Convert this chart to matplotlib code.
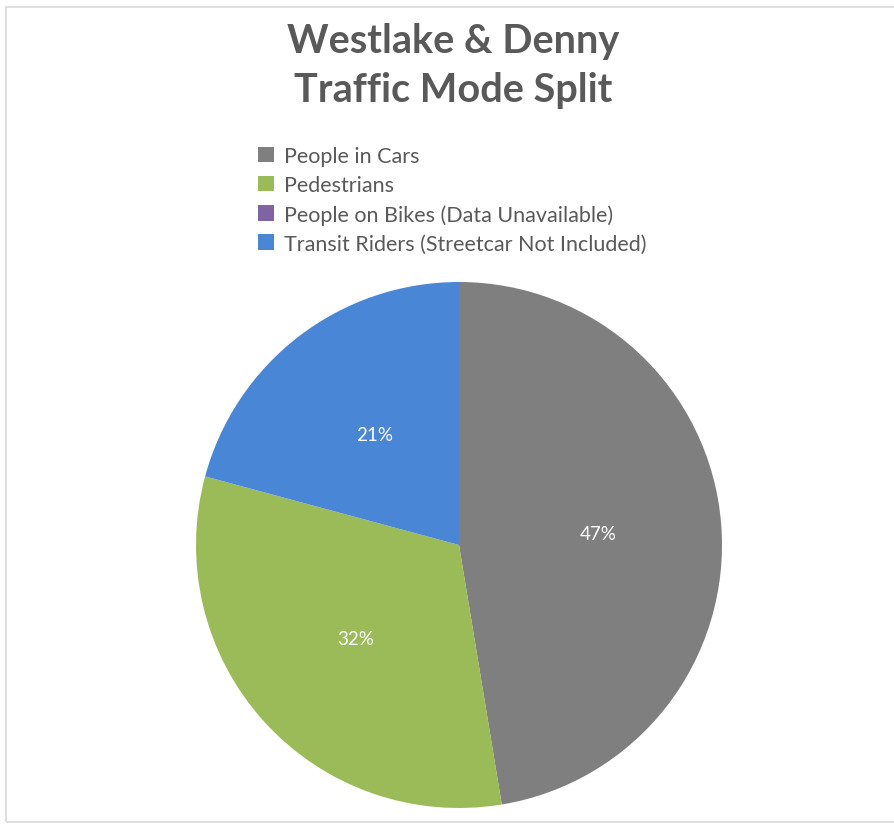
import matplotlib
matplotlib.use('Agg')
import matplotlib.pyplot as plt
from matplotlib.patches import Rectangle, Patch

plt.rcParams['font.family'] = ['Lato', 'DejaVu Sans']

# data
modes = ['People in Cars', 'Pedestrians', 'People on Bikes (Data Unavailable)',
         'Transit Riders (Streetcar Not Included)']
shares = [47.4, 31.8, 0.0, 20.8]
colors = ['#7f7f7f', '#9bbb59', '#8064a2', '#4a86d6']
title = 'Westlake & Denny\nTraffic Mode Split'

W, H = 895, 829
fig = plt.figure(figsize=(W / 100, H / 100), dpi=100)

# light frame round the chart area
fig.patches.append(Rectangle((6 / W, 6 / H), 1.0, (823 - 8) / H, transform=fig.transFigure,
                             fill=False, edgecolor='#d9d9d9', linewidth=1.2))

r = 263
cx, cy = 459, 829 - 546
ax = fig.add_axes([(cx - r) / W, (cy - r) / H, 2 * r / W, 2 * r / H])


def fmt(p):
    return '%.0f%%' % p if p > 0.5 else ''


wedges, texts, autotexts = ax.pie(shares, colors=colors, startangle=90, counterclock=False,
                                  autopct=fmt, pctdistance=0.53, radius=1,
                                  textprops={'color': 'white', 'fontsize': 13.5},
                                  wedgeprops={'linewidth': 0})
ax.set_xlim(-1, 1)
ax.set_ylim(-1, 1)
ax.axis('off')

fig.text(453 / W, 1 - 66 / H, title, ha='center', va='center', fontsize=28.5,
         fontweight='bold', color='#595959', linespacing=1.38)

handles = [Patch(facecolor=c, edgecolor='none') for c in colors]
fig.legend(handles, modes, loc='upper left', bbox_to_anchor=(243 / W, 1 - 132 / H),
           frameon=False, fontsize=15.5, labelcolor='#595959', handlelength=0.75,
           handleheight=0.75, handletextpad=0.45, labelspacing=0.42, borderpad=0.2)

fig.savefig('out.png', dpi=100)
